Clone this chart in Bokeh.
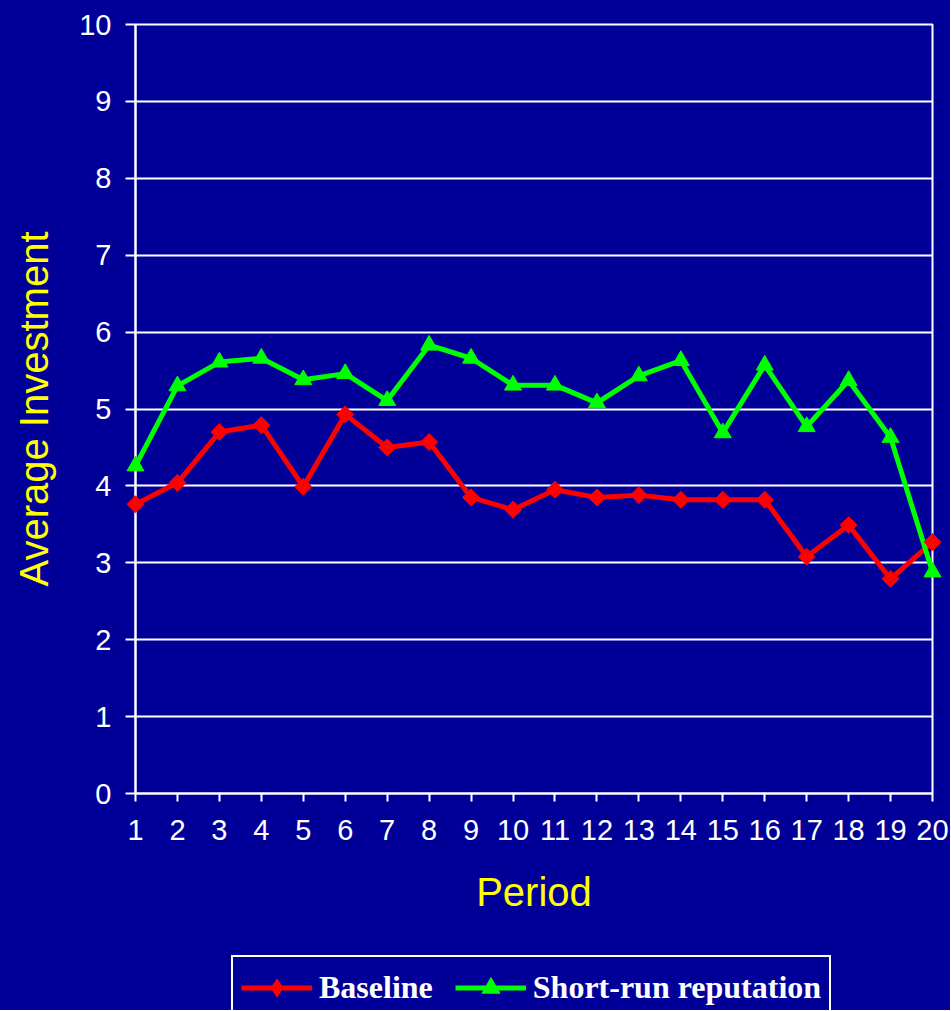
import math
from bokeh.plotting import figure
from bokeh.layouts import column
from bokeh.models import Range1d, FixedTicker, Legend, LegendItem, ColumnDataSource
from bokeh.embed import file_html
from bokeh.resources import INLINE

periods = list(range(1, 21))
period_labels = [str(v) for v in periods]
baseline = [3.76, 4.04, 4.70, 4.79, 3.99, 4.93, 4.50, 4.57, 3.85, 3.69,
            3.95, 3.85, 3.88, 3.82, 3.82, 3.82, 3.08, 3.49, 2.79, 3.27]
short_run = [4.26, 5.30, 5.61, 5.66, 5.38, 5.46, 5.11, 5.83, 5.66, 5.31,
             5.31, 5.08, 5.43, 5.63, 4.69, 5.57, 4.77, 5.37, 4.63, 2.88]
y_ticks = list(range(0, 11))
series_names = ["Baseline", "Short-run reputation"]

BG = "#000099"
WHITE = "#FFFFFF"
YELLOW = "#FFFF00"
RED = "#FF0000"
GREEN = "#00FF00"

src = ColumnDataSource(dict(x=periods, b=baseline, s=short_run))

p = figure(width=950, height=940, output_backend="svg", toolbar_location=None,
           x_range=Range1d(1, 20), y_range=Range1d(0, 10),
           min_border_left=135, min_border_right=18, min_border_top=24,
           min_border_bottom=147)
p.background_fill_color = BG
p.border_fill_color = BG
p.outline_line_color = WHITE
p.outline_line_width = 2

# axes
p.xaxis.ticker = FixedTicker(ticks=periods)
p.xaxis.major_label_overrides = {v: l for v, l in zip(periods, period_labels)}
p.yaxis.ticker = FixedTicker(ticks=y_ticks)
for ax in (p.xaxis, p.yaxis):
    ax.axis_line_color = WHITE
    ax.axis_line_width = 2
    ax.major_tick_line_color = WHITE
    ax.major_tick_line_width = 2
    ax.major_tick_in = 0
    ax.minor_tick_line_color = None
    ax.major_label_text_color = WHITE
    ax.major_label_text_font = "Liberation Sans"
    ax.major_label_text_font_size = "29px"
    ax.axis_label_text_color = YELLOW
    ax.axis_label_text_font = "Liberation Sans"
    ax.axis_label_text_font_style = "normal"
    ax.axis_label_text_font_size = "40px"
p.xaxis.major_tick_out = 8
p.yaxis.major_tick_out = 10
p.xaxis.major_label_standoff = 18
p.yaxis.major_label_standoff = 14
p.xaxis.axis_label = "Period"
p.yaxis.axis_label = "Average Investment"
p.xaxis.axis_label_standoff = 27
p.yaxis.axis_label_standoff = 20

p.xgrid.grid_line_color = None
p.ygrid.grid_line_color = WHITE
p.ygrid.grid_line_width = 2

# series
p.line("x", "b", source=src, line_color=RED, line_width=5)
p.line("x", "s", source=src, line_color=GREEN, line_width=5)
p.scatter("x", "b", source=src, marker="square", angle=math.pi / 4, size=12,
          fill_color=RED, line_color=RED, level="overlay")
p.scatter("x", "s", source=src, marker="triangle", size=17,
          fill_color=GREEN, line_color=GREEN, level="overlay")

# legend strip below the chart
pl = figure(width=950, height=70, output_backend="svg", toolbar_location=None,
            x_range=Range1d(1, 20), y_range=Range1d(0, 10),
            x_axis_type=None, y_axis_type=None, min_border=0)
pl.background_fill_color = BG
pl.border_fill_color = BG
pl.outline_line_color = None
pl.grid.visible = False
lb = pl.line("x", "b", source=src, line_color=RED, line_width=5, visible=False)
mb = pl.scatter("x", "b", source=src, marker="diamond", size=18,
                fill_color=RED, line_color=RED, visible=False)
ls = pl.line("x", "s", source=src, line_color=GREEN, line_width=5, visible=False)
ms = pl.scatter("x", "s", source=src, marker="triangle", size=17,
                fill_color=GREEN, line_color=GREEN, visible=False)

legend = Legend(items=[LegendItem(label=series_names[0], renderers=[lb, mb]),
                       LegendItem(label=series_names[1], renderers=[ls, ms])],
                location=(96, -10), orientation="horizontal",
                glyph_width=71, glyph_height=45, label_standoff=7, spacing=22,
                padding=8, margin=0,
                border_line_color=WHITE, border_line_width=2, border_line_alpha=1.0,
                background_fill_color=BG, background_fill_alpha=1.0,
                label_text_color=WHITE, label_text_font="Liberation Serif",
                label_text_font_style="bold", label_text_font_size="32px")
pl.add_layout(legend, "center")

layout = column(p, pl, spacing=0, styles={"background-color": BG})
open("out.html", "w").write(file_html(layout, INLINE))
